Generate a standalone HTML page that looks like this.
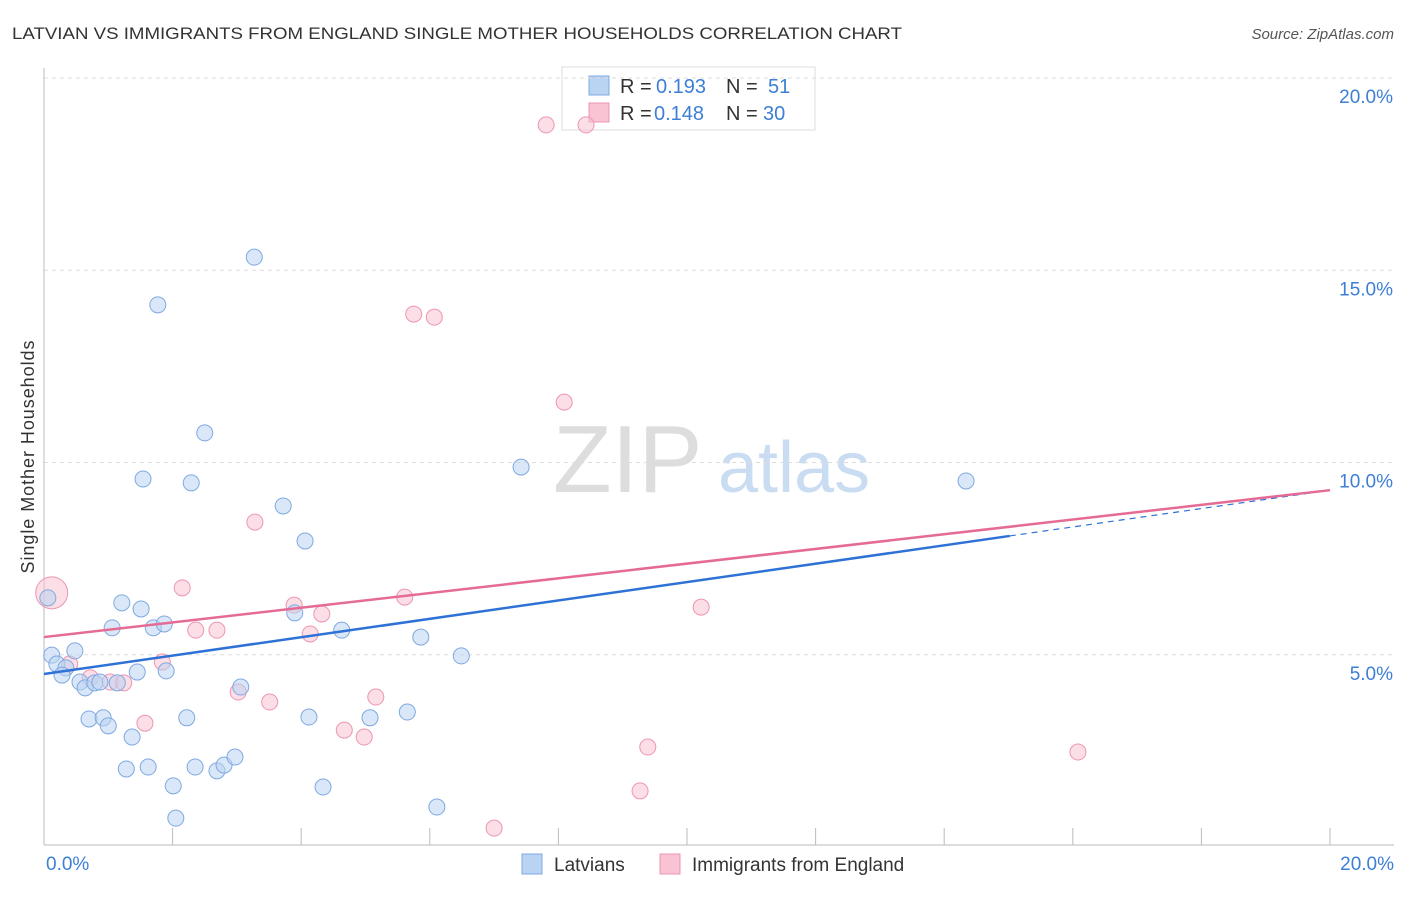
<!DOCTYPE html>
<html><head><meta charset="utf-8"><style>
body{margin:0;background:#fff;font-family:"Liberation Sans",sans-serif;}
svg text{font-family:"Liberation Sans",sans-serif;}
</style></head><body>
<svg id="c" width="1406" height="892">
<text x="12" y="39" font-size="17" fill="#333" textLength="890" lengthAdjust="spacingAndGlyphs">LATVIAN VS IMMIGRANTS FROM ENGLAND SINGLE MOTHER HOUSEHOLDS CORRELATION CHART</text>
<text x="1394" y="39" font-size="15" fill="#555" font-style="italic" text-anchor="end">Source: ZipAtlas.com</text>
<text x="34" y="457" font-size="18" fill="#333" transform="rotate(-90 34 457)" text-anchor="middle" textLength="233">Single Mother Households</text>
<text x="553" y="492" font-size="96" fill="#ddd" font-family="Liberation Serif">ZIP</text>
<text x="718" y="492" font-size="72" fill="#c9dcf2">atlas</text>
<g>
<rect x="562" y="67" width="253" height="63" fill="#fff" stroke="#ddd"/>
<rect x="589" y="76" width="20" height="19" fill="#b9d3f3" stroke="#7fa9e0"/>
<rect x="589" y="103" width="20" height="19" fill="#f9c3d3" stroke="#ec96b0"/>
<text y="93" font-size="20" fill="#333"><tspan x="620">R =</tspan><tspan x="656" fill="#3d7fd6">0.193</tspan><tspan x="726">N =</tspan><tspan x="768" fill="#3d7fd6">51</tspan></text>
<text y="120" font-size="20" fill="#333"><tspan x="620">R =</tspan><tspan x="654" fill="#3d7fd6">0.148</tspan><tspan x="726">N =</tspan><tspan x="763" fill="#3d7fd6">30</tspan></text>
</g>
<g id="grid"></g><g id="marks"></g>
<g>
<rect x="522" y="854" width="20" height="20" fill="#b9d3f3" stroke="#7fa9e0"/>
<text x="554" y="871" font-size="19" fill="#333">Latvians</text>
<rect x="660" y="854" width="20" height="20" fill="#f9c3d3" stroke="#ec96b0"/>
<text x="692" y="871" font-size="19" fill="#333">Immigrants from England</text>
</g>
</svg>
<script>
const yTicks=[5,10,15,20];
const yTickLabels=["5.0%","10.0%","15.0%","20.0%"];
const xLabels=["0.0%","20.0%"];
const blueX=[3.27,1.77,2.50,1.54,2.29,7.42,14.34,3.72,4.06,1.21,1.51,1.70,1.87,1.06,3.90,4.63,5.86,6.49,0.12,0.20,0.48,0.34,0.28,0.56,0.64,0.79,0.87,1.14,1.45,1.90,3.06,0.70,0.92,1.00,2.22,4.12,5.07,5.65,1.37,1.28,1.62,2.35,2.69,2.80,2.97,2.01,4.34,6.11,2.05,0.06];
const blueY=[15.34,14.10,10.77,9.57,9.47,9.88,9.52,8.87,7.96,6.35,6.19,5.70,5.80,5.70,6.09,5.64,5.46,4.97,4.99,4.76,5.10,4.66,4.47,4.29,4.14,4.27,4.29,4.27,4.55,4.58,4.16,3.33,3.36,3.15,3.36,3.38,3.36,3.51,2.86,2.03,2.08,2.08,1.98,2.13,2.34,1.59,1.56,1.04,0.75,6.48];
const pinkX=[7.81,8.43,5.75,6.07,8.09,3.28,2.15,3.89,4.32,5.61,10.22,2.36,2.69,4.14,1.84,0.40,0.72,1.03,1.24,3.02,3.51,5.16,1.57,4.67,4.98,9.39,16.08,9.27,7.00,0.12];
const pinkY=[18.78,18.78,13.86,13.78,11.57,8.45,6.74,6.29,6.06,6.50,6.24,5.64,5.64,5.54,4.81,4.76,4.40,4.29,4.27,4.03,3.77,3.90,3.22,3.04,2.86,2.60,2.47,1.46,0.49,6.61];
const blueTrend=[4.50,8.09,9.28]; const blueTrendX=[0,15.02,20];
const pinkTrend=[5.46,9.28];
const X=v=>44+v*64.3, Y=v=>847-v*38.45;
const NS="http://www.w3.org/2000/svg";
function mk(t,a,p){const e=document.createElementNS(NS,t);for(const k in a)e.setAttribute(k,a[k]);p.appendChild(e);return e;}
const g=document.getElementById('grid'), m=document.getElementById('marks');
yTicks.forEach((t,i)=>{
 const l=mk('line',{x1:44,x2:1394,y1:Y(t),y2:Y(t),stroke:'#ddd','stroke-dasharray':'4,4'},g);
 
 
 const tx=mk('text',{x:1393,y:Y(t)+25,'font-size':19,fill:'#3d7fd6','text-anchor':'end'},g);
 tx.textContent=yTickLabels[i];
 
 
});
const ax=mk('line',{x1:44,x2:44,y1:68,y2:845,stroke:'#bbb'},g);


const bx=mk('line',{x1:44,x2:1394,y1:845,y2:845,stroke:'#bbb'},g);


for(let i=0;i<=10;i++){
 const t=mk('line',{x1:X(i*2),x2:X(i*2),y1:828,y2:845,stroke:'#bbb'},g);
 
 
}
[[0,'start',46],[20,'end',1394]].forEach((d,i)=>{
 const tx=mk('text',{x:d[2],y:870,'font-size':19,fill:'#3d7fd6','text-anchor':d[1]},g);
 tx.textContent=xLabels[i];
 
 
});
function dots(xs,ys,fill,stroke,name){
 xs.forEach((x,i)=>{
  const big=(i===xs.length-1&&name==='england-point');
  const c=mk('circle',{cx:X(x),cy:Y(ys[i]),r:big?16:8,fill:fill,'fill-opacity':0.55,stroke:stroke,'stroke-width':1},m);
  
  
 });
}
dots(pinkX,pinkY,'#f9c3d3','#ec96b0','england-point');
dots(blueX,blueY,'#b9d3f3','#7fa9e0','latvian-point');
const bl=mk('line',{x1:X(blueTrendX[0]),y1:Y(blueTrend[0]),x2:X(blueTrendX[1]),y2:Y(blueTrend[1]),stroke:'#2f72d6','stroke-width':2.5},m);


const bd=mk('line',{x1:X(blueTrendX[1]),y1:Y(blueTrend[1]),x2:X(blueTrendX[2]),y2:Y(blueTrend[2]),stroke:'#2f72d6','stroke-width':1.2,'stroke-dasharray':'6,5'},m);


const pl=mk('line',{x1:X(0),y1:Y(pinkTrend[0]),x2:X(20),y2:Y(pinkTrend[1]),stroke:'#e56b95','stroke-width':2.5},m);


</script>
</body></html>
